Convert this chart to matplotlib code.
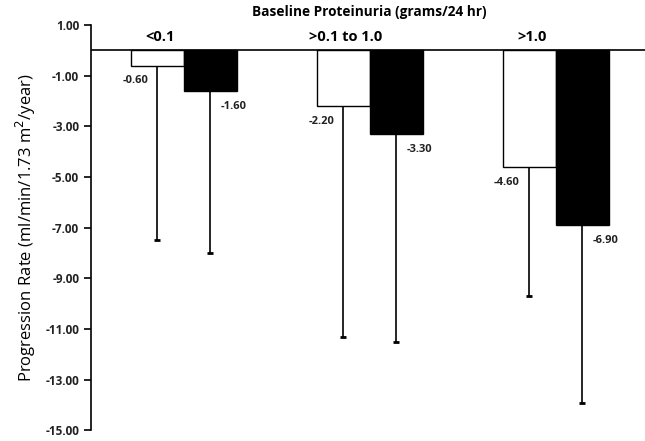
import numpy as np
import matplotlib
matplotlib.use("Agg")
import matplotlib.pyplot as plt

plt.rcParams['font.family'] = ['Open Sans', 'DejaVu Sans']

# Data
groups = ["<0.1", ">0.1 to 1.0", ">1.0"]
white_vals = [-0.60, -2.20, -4.60]
black_vals = [-1.60, -3.30, -6.90]
white_err = [6.90, 9.10, 5.10]   # lower error bar lengths
black_err = [6.40, 8.20, 7.00]
yticks = [1, -1, -3, -5, -7, -9, -11, -13, -15]

fig = plt.figure(figsize=(6.45, 4.41), dpi=100)
ax = fig.add_axes([0.141, 0.024, 0.859, 0.919])

x = np.arange(len(groups))
w = 0.285

ax.bar(x - w / 2, white_vals, w, color="white", edgecolor="black", linewidth=1.0, zorder=2)
ax.bar(x + w / 2, black_vals, w, color="black", edgecolor="black", linewidth=1.0, zorder=2)

# lower error bars only (line + small cap at the bottom)
for pos, vals, errs in [(x - w / 2, white_vals, white_err), (x + w / 2, black_vals, black_err)]:
    lows = np.array(vals) - np.array(errs)
    ax.vlines(pos, lows, vals, color="black", linewidth=1.2, zorder=3)
    ax.plot(pos, lows, linestyle="none", marker="_", markersize=4, markeredgewidth=2,
            color="black", zorder=3)

# value labels
for xi, v in zip(x - w / 2, white_vals):
    ax.annotate("%.2f" % v, (xi, v), xytext=(-16, -11), textcoords="offset points",
                ha="center", va="center", fontsize=8, fontweight="bold", color="#222222")
for xi, v in zip(x + w / 2, black_vals):
    ax.annotate("%.2f" % v, (xi, v), xytext=(17, -11), textcoords="offset points",
                ha="center", va="center", fontsize=8, fontweight="bold", color="#222222")

ax.axhline(0, color="black", linewidth=1.2, zorder=4)

ax.set_ylim(-15, 1)
ax.set_xlim(-0.5, 2.48)
ax.set_yticks(yticks)
ax.set_yticklabels(["%.2f" % t for t in yticks], fontsize=8.5, fontweight="bold", color="#222222")
ax.set_xticks([])
ax.tick_params(axis="y", direction="out", length=5, width=1.2)
for s in ["top", "right", "bottom"]:
    ax.spines[s].set_visible(False)
ax.spines["left"].set_linewidth(1.2)

ax.set_ylabel("Progression Rate (ml/min/1.73 m$^2$/year)", fontsize=12, labelpad=5)

# group labels and header
for xi, g in zip(x, groups):
    ax.text(xi - 0.13, 0.55, g, ha="center", va="center", fontsize=10.5, fontweight="bold")
fig.text(0.572, 0.972, "Baseline Proteinuria (grams/24 hr)", ha="center", va="center",
         fontsize=9.8, fontweight="bold")

fig.savefig("out.png", dpi=100)
